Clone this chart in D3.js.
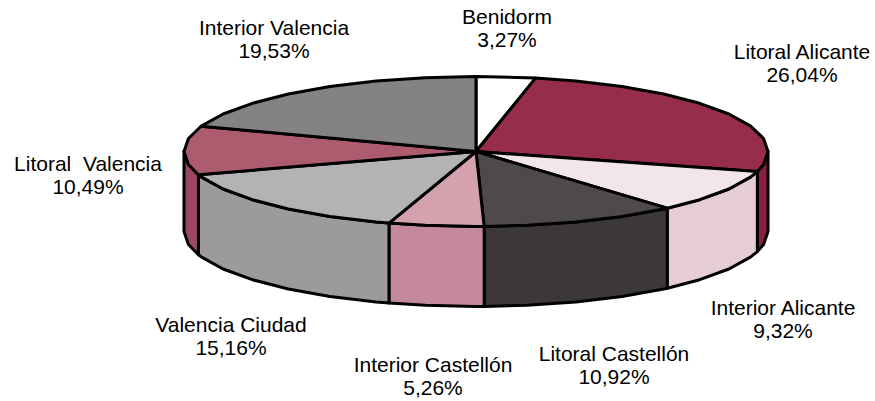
<!DOCTYPE html>
<meta charset="utf-8">
<style>
  body { margin: 0; background: #fff; }
  .label { font: 21px "Liberation Sans", Arial, sans-serif; fill: #000; text-anchor: middle; white-space: pre; }
  .face { stroke: #000; stroke-width: 3px; stroke-linejoin: round; }
</style>
<svg width="875" height="401"></svg>
<script src="https://d3js.org/d3.v7.min.js"></script>
<script>

    // slices, clockwise from 12 o'clock
    var names = ["Benidorm", "Litoral Alicante", "Interior Alicante", "Litoral Castellón",
                 "Interior Castellón", "Valencia Ciudad", "Litoral  Valencia", "Interior Valencia"];
    var values = [3.27, 26.04, 9.32, 10.92, 5.26, 15.16, 10.49, 19.53];
    var valueText = ["3,27%", "26,04%", "9,32%", "10,92%", "5,26%", "15,16%", "10,49%", "19,53%"];

    var topColors = ["#ffffff", "#952d4b", "#f2e6ea", "#4f4a4a", "#d4a1ae", "#b3b3b3", "#ad5c70", "#858283"];
    var sideColors = ["#e6e6e6", "#8a1f40", "#e6cdd5", "#3d3838", "#c48a9b", "#9c9a9b", "#9d4861", "#747172"];

    // label block centres (x, baseline of first line)
    var labelPos = [[507, 24], [802, 59], [783, 315], [614, 361], [433, 372], [231, 332], [88, 171], [274, 35]];

    var svg = d3.select("svg"),
        cx = 476, cy = 151.5, rx = 292, ry = 75, depth = 80,
        step = Math.PI / 18;

    var pie = d3.pie().sort(null).value(function(d) { return d; });
    var arcs = pie(values);

    function pt(a, z) {
        return [cx + rx * Math.sin(a), cy - ry * Math.cos(a) + z];
    }

    // points along the rim, faceted every `step`
    function rim(a0, a1, z) {
        var pts = [pt(a0, z)];
        var k = Math.floor(a0 / step) + 1;
        for (; k * step < a1 - 1e-6; k++) pts.push(pt(k * step, z));
        pts.push(pt(a1, z));
        return pts;
    }

    var line = d3.line().curve(d3.curveLinearClosed);
    var g = svg.append("g");

    // outer side walls, only the front half is visible
    arcs.forEach(function(d, i) {
        var s0 = Math.max(d.startAngle, Math.PI / 2),
            s1 = Math.min(d.endAngle, Math.PI * 1.5);
        if (s1 <= s0) return;
        var top = rim(s0, s1, 0),
            bottom = rim(s0, s1, depth).reverse();
        g.append("path")
            .attr("class", "face")
            .attr("fill", sideColors[i])
            .attr("d", line(top.concat(bottom)));
    });

    // top faces
    arcs.forEach(function(d, i) {
        var pts = [[cx, cy]].concat(rim(d.startAngle, d.endAngle, 0));
        g.append("path")
            .attr("class", "face")
            .attr("fill", topColors[i])
            .attr("d", line(pts));
    });

    // labels
    var lab = svg.append("g").selectAll("text")
        .data(arcs)
        .enter().append("text")
        .attr("class", "label")
        .attr("transform", function(d, i) { return "translate(" + labelPos[i][0] + "," + labelPos[i][1] + ")"; });

    lab.append("tspan").attr("x", 0).attr("y", 0).text(function(d, i) { return names[i]; });
    lab.append("tspan").attr("x", 0).attr("y", 23).text(function(d, i) { return valueText[i]; });

</script>
